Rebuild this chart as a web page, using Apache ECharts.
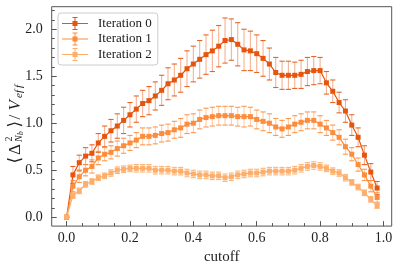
<!DOCTYPE html>
<html><head><meta charset="utf-8">
<script src="https://cdn.jsdelivr.net/npm/echarts@6/dist/echarts.min.js"></script>
<style>html,body{margin:0;padding:0;background:#fff}#c{width:399px;height:270px}</style>
</head><body><div id="c"></div>
<script>
const cutoff = [0.00,0.02,0.04,0.06,0.08,0.10,0.12,0.14,0.16,0.18,0.20,0.22,0.24,0.26,0.28,0.30,0.32,0.34,0.36,0.38,0.40,0.42,0.44,0.46,0.48,0.50,0.52,0.54,0.56,0.58,0.60,0.62,0.64,0.66,0.68,0.70,0.72,0.74,0.76,0.78,0.80,0.82,0.84,0.86,0.88,0.90,0.92,0.94,0.96,0.98];
const iter0 = [0,0.45,0.58,0.65,0.68,0.79,0.86,0.92,0.97,1.03,1.09,1.15,1.21,1.24,1.29,1.35,1.42,1.46,1.51,1.58,1.63,1.68,1.73,1.77,1.82,1.88,1.89,1.84,1.78,1.77,1.74,1.69,1.63,1.54,1.51,1.51,1.51,1.52,1.55,1.56,1.56,1.43,1.34,1.22,1.13,0.98,0.85,0.66,0.48,0.31];
const err0 = [0,0.09,0.08,0.09,0.09,0.10,0.11,0.12,0.13,0.14,0.13,0.14,0.14,0.15,0.15,0.16,0.17,0.17,0.18,0.19,0.19,0.20,0.21,0.22,0.22,0.24,0.22,0.23,0.22,0.21,0.20,0.19,0.17,0.16,0.15,0.15,0.14,0.15,0.15,0.15,0.14,0.12,0.12,0.11,0.12,0.11,0.10,0.10,0.09,0.07];
const iter1 = [0,0.33,0.43,0.50,0.54,0.63,0.67,0.69,0.73,0.76,0.79,0.82,0.86,0.86,0.87,0.89,0.90,0.93,0.95,0.99,1.00,1.04,1.06,1.07,1.08,1.08,1.08,1.07,1.07,1.07,1.04,1.02,1.00,0.96,0.94,0.96,0.99,1.01,1.03,1.03,0.99,0.95,0.90,0.85,0.75,0.67,0.56,0.45,0.33,0.21];
const err1 = [0,0.06,0.06,0.06,0.07,0.07,0.07,0.07,0.08,0.08,0.08,0.08,0.09,0.09,0.09,0.09,0.09,0.09,0.10,0.10,0.10,0.10,0.10,0.10,0.10,0.10,0.10,0.10,0.11,0.10,0.10,0.10,0.10,0.09,0.09,0.09,0.09,0.09,0.09,0.09,0.09,0.08,0.08,0.08,0.08,0.07,0.07,0.06,0.06,0.05];
const iter2 = [0,0.23,0.28,0.35,0.38,0.42,0.44,0.47,0.50,0.51,0.52,0.52,0.52,0.52,0.50,0.50,0.50,0.49,0.49,0.47,0.46,0.45,0.45,0.44,0.44,0.42,0.43,0.45,0.46,0.47,0.47,0.48,0.49,0.49,0.49,0.49,0.50,0.52,0.54,0.55,0.54,0.52,0.49,0.47,0.42,0.37,0.32,0.26,0.19,0.12];
const err2 = [0,0.03,0.03,0.03,0.03,0.03,0.03,0.035,0.035,0.035,0.035,0.04,0.04,0.04,0.04,0.04,0.04,0.04,0.04,0.04,0.04,0.04,0.04,0.04,0.04,0.04,0.04,0.04,0.04,0.04,0.04,0.04,0.04,0.04,0.04,0.04,0.04,0.04,0.04,0.04,0.04,0.035,0.035,0.035,0.035,0.03,0.03,0.03,0.03,0.025];
const seriesNames = ['Iteration 0','Iteration 1','Iteration 2'];
const xTicks = [0,0.2,0.4,0.6,0.8,1.0];
const xMinorTicks = [0.05,0.1,0.15,0.25,0.3,0.35,0.45,0.5,0.55,0.65,0.7,0.75,0.85,0.9,0.95];
const yTicks = [0,0.5,1.0,1.5,2.0];
const yMinorTicks = [0.1,0.2,0.3,0.4,0.6,0.7,0.8,0.9,1.1,1.2,1.3,1.4,1.6,1.7,1.8,1.9,2.1,2.2];
const xLabel = 'cutoff';

const colors = ['#e6550d','#fd8d3c','#fdae6b'];
const serif = '"Liberation Serif", "DejaVu Serif", serif';
const allVals = [iter0, iter1, iter2];
const allErr = [err0, err1, err2];

const chart = echarts.init(document.getElementById('c'), null, {renderer:'canvas'});

const XMIN = -0.047, XMAX = 1.026, YMIN = -0.095, YMAX = 2.24;
const frame = '#555';

function errRender(color){
  return function(params, api){
    const x = api.value(0), y = api.value(1), e = api.value(2);
    const top = api.coord([x, y + e]);
    const bot = api.coord([x, y - e]);
    const hw = 2.6;
    return {type:'group', children:[
      {type:'line', shape:{x1:top[0],y1:top[1],x2:bot[0],y2:bot[1]}, style:{stroke:color, lineWidth:1.1, opacity:0.45}},
      {type:'line', shape:{x1:top[0]-hw,y1:top[1],x2:top[0]+hw,y2:top[1]}, style:{stroke:color, lineWidth:1.1, opacity:0.9}},
      {type:'line', shape:{x1:bot[0]-hw,y1:bot[1],x2:bot[0]+hw,y2:bot[1]}, style:{stroke:color, lineWidth:1.1, opacity:0.9}}
    ]};
  };
}

const series = [];
seriesNames.forEach((name, k) => {
  series.push({
    type:'custom', name: name + ' err', renderItem: errRender(colors[k]),
    data: cutoff.map((x,i)=>[x, allVals[k][i], allErr[k][i]]),
    encode:{x:0, y:1}, z: 2 + k*2, silent:true, clip:false
  });
  series.push({
    type:'line', name: name,
    data: cutoff.map((x,i)=>[x, allVals[k][i]]),
    symbol:'rect', symbolSize:5, showSymbol:true,
    itemStyle:{color:colors[k]}, lineStyle:{color:colors[k], width:1.2},
    z: 3 + k*2, silent:true, animation:false
  });
});

const legendIcon = 'path://M0 6.5H26V7.5H0Z M10.5 4.5H15.5V9.5H10.5Z M12.5 0.5H13.5V13.5H12.5Z M10.5 0.5H15.5V1.5H10.5Z M10.5 12.5H15.5V13.5H10.5Z';

// y-axis label pieces: [text, offset along reading direction, size, italic, dy]
const ylabPieces = [
  ['\u27E8', 0, 17, false, 0],
  ['\u0394', 8.5, 17, false, 0],
  ['2', 22, 10, false, -6.5],
  ['N', 21.5, 10, true, 3],
  ['b', 28.5, 7.5, true, 5.5],
  ['\u27E9', 36, 17, false, 0],
  ['/', 44, 17, false, 0],
  ['V', 53, 17, true, 0],
  ['e', 65.5, 11, true, 3.5],
  ['f', 70.5, 11, true, 3.5],
  ['f', 75.5, 11, true, 3.5]
];
const ylabelChildren = ylabPieces.map(p => ({
  type:'text', x:p[1], y:p[4],
  style:{text:p[0], font:(p[3]?'italic ':'') + p[2] + 'px ' + serif, fill:'#222', verticalAlign:'middle', align:'left'}
}));

chart.setOption({
  animation:false,
  backgroundColor:'#fff',
  grid:{left:51.7, right:7.3, top:6.7, bottom:42.7, show:true, borderColor:frame, borderWidth:1, backgroundColor:'transparent'},
  xAxis:[
    {type:'value', min:XMIN, max:XMAX, position:'bottom',
     axisLine:{show:false, onZero:false}, splitLine:{show:false},
     axisTick:{show:true, inside:true, length:5, customValues:xTicks, lineStyle:{color:frame}},
     axisLabel:{show:true, customValues:xTicks, margin:5, color:'#222', fontFamily:serif, fontSize:14, formatter:v=>v.toFixed(1)},
     name:xLabel, nameLocation:'middle', nameGap:22, nameTextStyle:{fontFamily:serif, fontSize:15, color:'#222'}},
    {type:'value', min:XMIN, max:XMAX, position:'bottom',
     axisLine:{show:false, onZero:false}, splitLine:{show:false},
     axisTick:{show:true, inside:true, length:3, customValues:xMinorTicks, lineStyle:{color:frame}},
     axisLabel:{show:false}}
  ],
  yAxis:[
    {type:'value', min:YMIN, max:YMAX, position:'left',
     axisLine:{show:false, onZero:false}, splitLine:{show:false},
     axisTick:{show:true, inside:true, length:5, customValues:yTicks, lineStyle:{color:frame}},
     axisLabel:{show:true, customValues:yTicks, margin:9, color:'#222', fontFamily:serif, fontSize:14, formatter:v=>v.toFixed(1)}},
    {type:'value', min:YMIN, max:YMAX, position:'left',
     axisLine:{show:false, onZero:false}, splitLine:{show:false},
     axisTick:{show:true, inside:true, length:3, customValues:yMinorTicks, lineStyle:{color:frame}},
     axisLabel:{show:false}}
  ],
  legend:{
    data: seriesNames.map((n,k)=>({name:n, icon:legendIcon, itemStyle:{color:colors[k]}})),
    orient:'vertical', left:58, top:13, itemWidth:26, itemHeight:14, itemGap:2.5,
    padding:[4,6,4,4], borderColor:'#ccc', borderWidth:1, borderRadius:3,
    backgroundColor:'rgba(255,255,255,0.85)',
    textStyle:{fontFamily:serif, fontSize:13, color:'#222', padding:[0,0,0,5]},
    selectedMode:false
  },
  graphic:[{type:'group', x:16, y:163.5, rotation:Math.PI/2, children:ylabelChildren, silent:true}],
  series: series
});
</script></body></html>
